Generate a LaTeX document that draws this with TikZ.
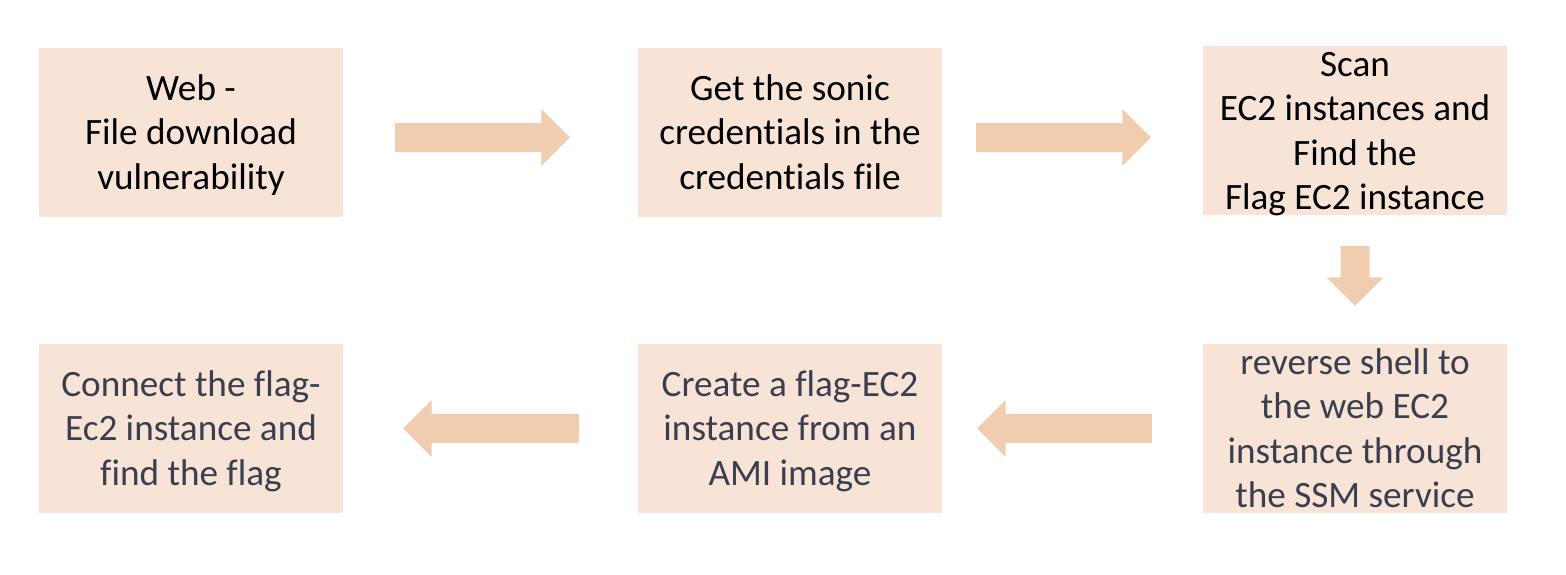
\documentclass[tikz,border=0pt]{standalone}
\usepackage{fontspec}
\setmainfont{Carlito}[Ligatures=NoCommon]
\usetikzlibrary{calc}
\definecolor{boxfill}{HTML}{F7E4D7}
\definecolor{arrowfill}{HTML}{F1CDB0}
\definecolor{darktext}{HTML}{3A3E4E}
\newcommand{\boxtext}[1]{\raisebox{0pt}[\dimexpr\height-20pt\relax][\dimexpr\depth-27pt\relax]{\begin{tabular}{@{}c@{}}#1\end{tabular}}}
\newcommand{\blockarrow}[2]{%
  \coordinate (hb) at ($(#2)!28.5pt!(#1)$);
  \fill[arrowfill] ($(#1)!14.5pt!90:(#2)$) -- ($(hb)!14.5pt!90:(#2)$) -- ($(hb)!28.5pt!90:(#2)$) -- (#2)
    -- ($(hb)!28.5pt!-90:(#2)$) -- ($(hb)!14.5pt!-90:(#2)$) -- ($(#1)!14.5pt!-90:(#2)$) -- cycle;}
\begin{document}
\begin{tikzpicture}[x=1pt,y=-1pt,
  stepbox/.style={fill=boxfill, draw=none, minimum width=304pt, minimum height=169pt,
    inner sep=0pt, font=\fontsize{37.2}{44.6}\selectfont},
  toprow/.style={text=black},
  botrow/.style={text=darktext}]
\useasboundingbox (0,0) rectangle (1566,574);
\node[stepbox,toprow] (b1) at (191,132.5) {\boxtext{Web -\\File download\\vulnerability}};
\node[stepbox,toprow] (b2) at (790,132.5) {\boxtext{Get the sonic\\credentials in the\\credentials file}};
\node[stepbox,toprow] (b3) at (1355,130.5) {\boxtext{Scan\\EC2 instances and\\Find the\\Flag EC2 instance}};
\node[stepbox,botrow] (b4) at (1355,428.5) {\boxtext{reverse shell to\\the web EC2\\instance through\\the SSM service}};
\node[stepbox,botrow] (b5) at (790,428.5) {\boxtext{Create a flag-EC2\\instance from an\\AMI image}};
\node[stepbox,botrow] (b6) at (191,428.5) {\boxtext{Connect the flag-\\Ec2 instance and\\find the flag}};
\coordinate (a1s) at ($(b1.east)+(52,5)$);
\coordinate (a1e) at ($(b2.west)+(-68,5)$);
\coordinate (a2s) at ($(b2.east)+(34,5)$);
\coordinate (a2e) at ($(b3.west)+(-52,7)$);
\coordinate (a3s) at ($(b3.south)+(0,31)$);
\coordinate (a3e) at ($(b4.north)+(0,-38)$);
\coordinate (a4s) at ($(b4.west)+(-51,0)$);
\coordinate (a4e) at ($(b5.east)+(35,0)$);
\coordinate (a5s) at ($(b5.west)+(-59,0)$);
\coordinate (a5e) at ($(b6.east)+(60,0)$);
\blockarrow{a1s}{a1e}
\blockarrow{a2s}{a2e}
\blockarrow{a3s}{a3e}
\blockarrow{a4s}{a4e}
\blockarrow{a5s}{a5e}
\end{tikzpicture}
\end{document}
